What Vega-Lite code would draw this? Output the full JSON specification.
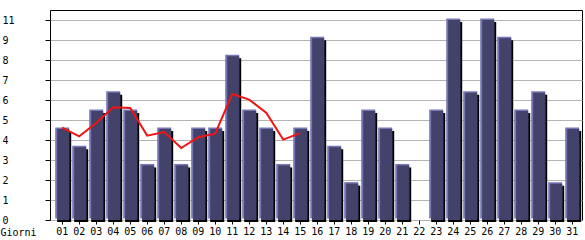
{
  "$schema": "https://vega.github.io/schema/vega-lite/v6.json",
  "autosize": {"type": "none"},
  "padding": {"left": 50, "top": 10, "right": 3, "bottom": 20},
  "width": 532,
  "height": 210,
  "background": "white",
  "config": {
    "view": {"stroke": "black", "strokeWidth": 1},
    "font": "DejaVu Sans Mono"
  },
  "datasets": {
    "bars": [
      {"d": "01", "v": 5}, {"d": "02", "v": 4}, {"d": "03", "v": 6}, {"d": "04", "v": 7},
      {"d": "05", "v": 6}, {"d": "06", "v": 3}, {"d": "07", "v": 5}, {"d": "08", "v": 3},
      {"d": "09", "v": 5}, {"d": "10", "v": 5}, {"d": "11", "v": 9}, {"d": "12", "v": 6},
      {"d": "13", "v": 5}, {"d": "14", "v": 3}, {"d": "15", "v": 5}, {"d": "16", "v": 10},
      {"d": "17", "v": 4}, {"d": "18", "v": 2}, {"d": "19", "v": 6}, {"d": "20", "v": 5},
      {"d": "21", "v": 3}, {"d": "22", "v": 0}, {"d": "23", "v": 6}, {"d": "24", "v": 11},
      {"d": "25", "v": 7}, {"d": "26", "v": 11}, {"d": "27", "v": 10}, {"d": "28", "v": 6},
      {"d": "29", "v": 7}, {"d": "30", "v": 2}, {"d": "31", "v": 5}
    ],
    "avg": [
      {"d": "01", "m": 5.08}, {"d": "02", "m": 4.6}, {"d": "03", "m": 5.33}, {"d": "04", "m": 6.2},
      {"d": "05", "m": 6.16}, {"d": "06", "m": 4.64}, {"d": "07", "m": 4.84}, {"d": "08", "m": 3.96},
      {"d": "09", "m": 4.55}, {"d": "10", "m": 4.75}, {"d": "11", "m": 6.93}, {"d": "12", "m": 6.62},
      {"d": "13", "m": 5.9}, {"d": "14", "m": 4.42}, {"d": "15", "m": 4.78}
    ]
  },
  "encoding": {
    "x": {
      "field": "d", "type": "ordinal", "sort": null,
      "scale": {"paddingInner": 0, "paddingOuter": 0.147, "align": 0.74},
      "axis": {
        "title": "Giorni", "titleFont": "DejaVu Sans Mono", "titleFontSize": 10, "titleFontWeight": "normal",
        "titleColor": "black", "titleX": -50, "titleY": 12, "titleAlign": "left", "titleBaseline": "middle", "titleAnchor": "start",
        "labelAngle": 0, "labelFont": "DejaVu Sans Mono", "labelFontSize": 10, "labelColor": "black",
        "labelPadding": 2, "tickSize": 4, "tickColor": "black", "domain": false, "grid": false,
        "labelOverlap": false
      }
    }
  },
  "layer": [
    {
      "data": {"name": "bars"},
      "mark": {"type": "bar", "color": "black", "width": 14, "xOffset": 2, "yOffset": 2},
      "encoding": {
        "y": {
          "field": "v", "type": "quantitative",
          "scale": {"domain": [0, 11.55], "nice": false, "zero": true},
          "axis": {
            "title": null, "values": [0, 1.1, 2.2, 3.3, 4.4, 5.5, 6.6, 7.7, 8.8, 9.9, 11], "tickCount": 20,
            "labelExpr": "floor(datum.value)", "labelAlign": "left", "labelPadding": 43, "labelBaseline": "middle",
            "labelFont": "DejaVu Sans Mono", "labelFontSize": 10, "labelColor": "black",
            "labelOverlap": false, "labelFlush": false,
            "tickSize": 5, "tickColor": "black", "domain": false,
            "grid": true, "gridColor": "#b4b4b4", "gridWidth": 1, "gridOpacity": 1
          }
        }
      }
    },
    {
      "data": {"name": "bars"},
      "mark": {"type": "bar", "color": "#7676b6", "width": 14, "yOffset": -1.5, "y2Offset": 0.5},
      "encoding": {"y": {"field": "v", "type": "quantitative"}}
    },
    {
      "data": {"name": "bars"},
      "mark": {"type": "bar", "color": "#42426a", "width": 12, "xOffset": 1, "yOffset": 0},
      "encoding": {"y": {"field": "v", "type": "quantitative"}}
    },
    {
      "data": {"name": "avg"},
      "mark": {"type": "line", "color": "#f01414", "strokeWidth": 2},
      "encoding": {"y": {"field": "m", "type": "quantitative"}}
    }
  ]
}
